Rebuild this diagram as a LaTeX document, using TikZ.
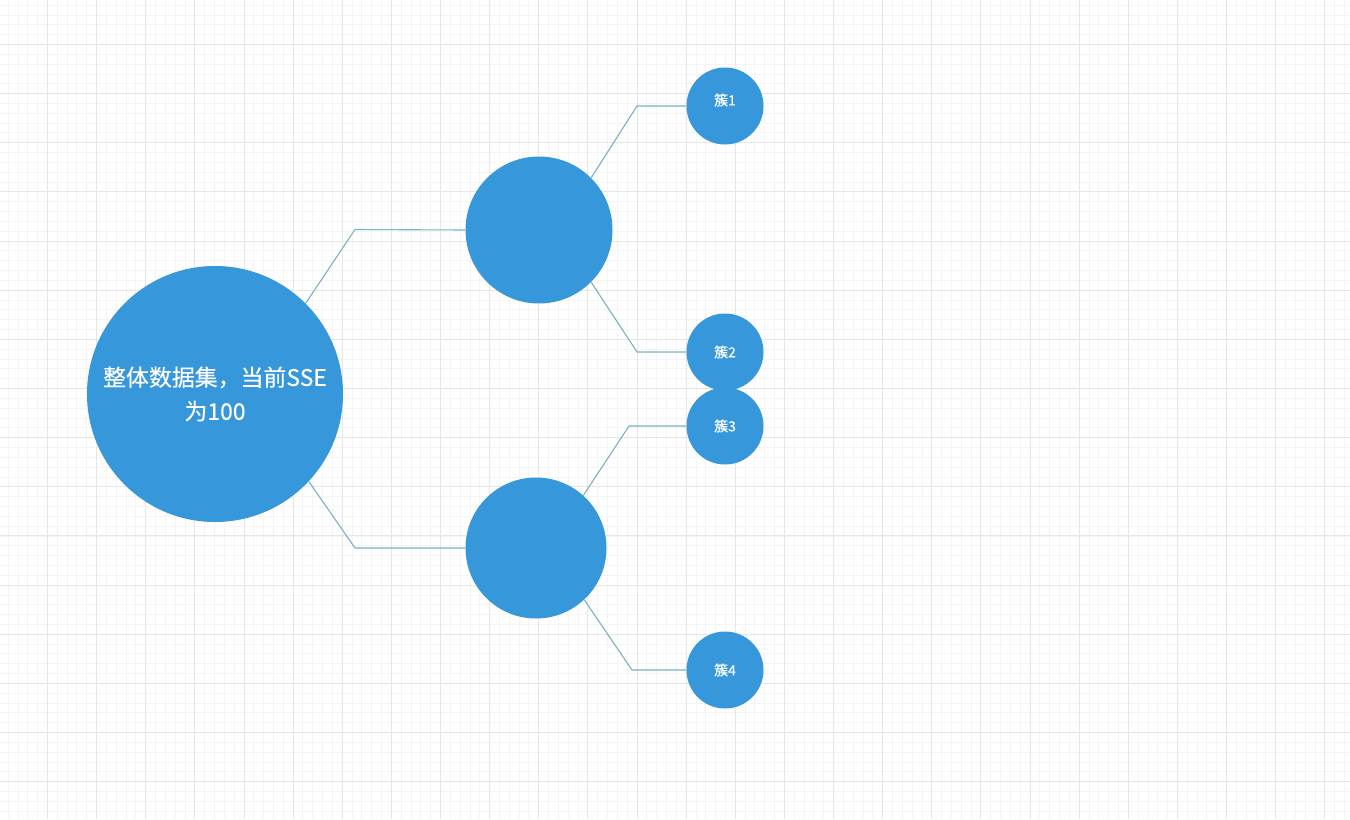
\documentclass[tikz,border=0pt]{standalone}
\usepackage{fontspec}
\setmainfont{Noto Sans CJK SC}[UprightFeatures={FakeBold=0.3}]
\definecolor{nodeblue}{RGB}{54,152,219}
\definecolor{linkc}{RGB}{122,178,192}
\definecolor{gridminor}{RGB}{244,244,244}
\definecolor{gridmajor}{RGB}{230,230,230}
\begin{document}
\begin{tikzpicture}[x=1bp,y=-1bp,
  minorline/.style={draw=gridminor,line width=1bp},
  majorline/.style={draw=gridmajor,line width=1bp},
  blob/.style={circle,fill=nodeblue,draw=none,inner sep=0pt,text=white,align=center},
  bigblob/.style={blob,minimum size=256bp,font=\fontsize{23}{34}\selectfont},
  midblob/.style={blob,minimum size=#1},
  leaf/.style={blob,minimum size=77bp,font=\fontsize{14}{16}\selectfont},
  link/.style={draw=linkc,line width=1.1bp}]
\useasboundingbox (0,0) rectangle (1350,819);
\fill[white] (0,0) rectangle (1350,819);
% grid
\foreach \i in {0,...,137} { \pgfmathsetmacro\gx{round(7.7+9.826*\i)+0.5} \draw[minorline] (\gx,0) -- (\gx,819); }
\foreach \i in {0,...,83} { \pgfmathsetmacro\gy{round(4.7+9.83*\i)+0.5} \draw[minorline] (0,\gy) -- (1350,\gy); }
\foreach \i in {0,...,27} { \pgfmathsetmacro\gx{round(47+49.13*\i)+0.5} \draw[majorline] (\gx,0) -- (\gx,819); }
\foreach \i in {0,...,16} { \pgfmathsetmacro\gy{round(44+49.15*\i)+0.5} \draw[majorline] (0,\gy) -- (1350,\gy); }
% connector bends
\coordinate (b1) at (355,229.5);
\coordinate (b2) at (355,548);
\coordinate (b3) at (637,106);
\coordinate (b4) at (637,352);
\coordinate (b5) at (629,426);
\coordinate (b6) at (632,670);
% nodes
\node[bigblob] (root) at (215,394) {整体数据集，当前SSE\\为100};
\node[midblob=147bp] (m1) at (539,230) {};
\node[midblob=141bp] (m2) at (536,548) {};
\node[leaf] (c1) at (725,106) {\raisebox{13bp}{簇1}};
\node[leaf] (c2) at (725,352) {簇2};
\node[leaf] (c3) at (725,426) {簇3};
\node[leaf] (c4) at (725,670) {簇4};
% connectors
\draw[link] (root.45) -- (b1) -- (m1.west);
\draw[link] (root.-43) -- (b2) -- (m2.west);
\draw[link] (m1.45) -- (b3) -- (c1.west);
\draw[link] (m1.-45) -- (b4) -- (c2.west);
\draw[link] (m2.48) -- (b5) -- (c3.west);
\draw[link] (m2.-47) -- (b6) -- (c4.west);
\end{tikzpicture}
\end{document}
